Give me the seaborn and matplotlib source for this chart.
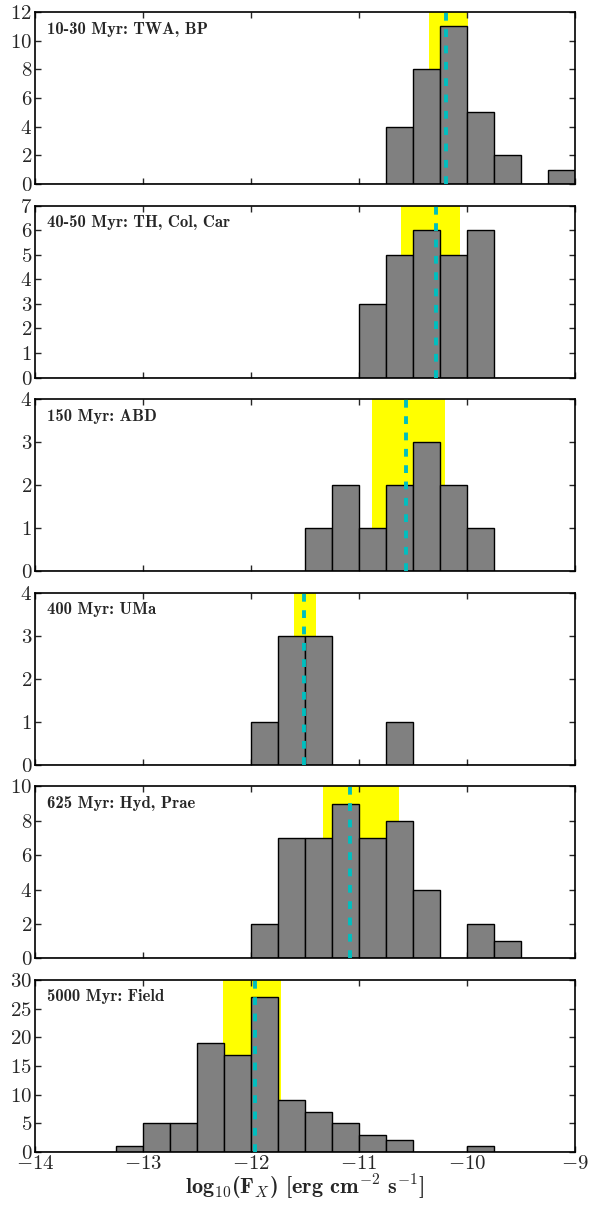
import matplotlib
matplotlib.use("Agg")
import matplotlib.pyplot as plt
import numpy as np
import pandas as pd
import seaborn as sns

# Histogram counts per age group, bins of 0.25 dex starting at first_edge
labels = [
    "10-30 Myr: TWA, BP",
    "40-50 Myr: TH, Col, Car",
    "150 Myr: ABD",
    "400 Myr: UMa",
    "625 Myr: Hyd, Prae",
    "5000 Myr: Field",
]
first_edge = [-10.75, -11.0, -11.5, -12.0, -12.0, -13.25]
counts = [
    [4, 8, 11, 5, 2, 0, 1],
    [3, 5, 6, 5, 6],
    [1, 2, 1, 2, 3, 2, 1],
    [1, 3, 3, 0, 0, 1],
    [2, 7, 7, 9, 7, 8, 4, 0, 2, 1],
    [1, 5, 5, 19, 17, 27, 9, 7, 5, 3, 2, 0, 0, 1],
]
# median flux and its uncertainty band
median_fx = [-10.19, -10.29, -10.56, -11.51, -11.08, -11.96]
band_lo = [-10.35, -10.61, -10.88, -11.60, -11.33, -12.26]
band_hi = [-9.99, -10.06, -10.20, -11.40, -10.63, -11.72]
ymax = [12, 7, 4, 4, 10, 30]
ystep = [2, 1, 1, 1, 2, 5]
bin_width = 0.25

sns.set_style("ticks")
plt.rcParams["font.family"] = "serif"
plt.rcParams["font.serif"] = ["cmr10", "DejaVu Serif"]
plt.rcParams["mathtext.fontset"] = "cm"
plt.rcParams["axes.formatter.use_mathtext"] = True
plt.rcParams["axes.unicode_minus"] = True

fig, axes = plt.subplots(6, 1, figsize=(5.92, 12.08), dpi=100, sharex=True)
fig.subplots_adjust(left=0.059, right=0.971, top=0.990, bottom=0.0464, hspace=0.126)

for i, ax in enumerate(axes):
    c = np.array(counts[i], dtype=float)
    df = pd.DataFrame({
        "fx": first_edge[i] + bin_width * (np.arange(len(c)) + 0.5),
        "n": c,
    })
    ax.axvspan(band_lo[i], band_hi[i], color="#ffff00", lw=0, zorder=0)
    sns.histplot(data=df, x="fx", weights="n", binwidth=bin_width,
                 binrange=(-14, -9), ax=ax, color="#808080",
                 edgecolor="black", linewidth=1.0, alpha=1, zorder=2)
    ax.axvline(median_fx[i], color="c", lw=2.8, ls=(0, (2.0, 2.2)), zorder=3)
    ax.set_xlim(-14, -9)
    ax.set_ylim(0, ymax[i])
    ax.set_yticks(np.arange(0, ymax[i] + 0.1, ystep[i]))
    ax.set_xticks(np.arange(-14, -8.9, 1))
    ax.set_ylabel("")
    ax.set_xlabel("")
    ax.tick_params(direction="in", top=True, right=True, length=4, width=1,
                   labelsize=15, pad=2)
    for sp in ax.spines.values():
        sp.set_linewidth(1.2)
        sp.set_color("black")
    ax.text(0.022, 0.945, labels[i], transform=ax.transAxes, va="top", ha="left",
            fontsize=12, family="cmb10")

axes[-1].set_xlabel(r"log$_{10}$(F$_X$) [erg cm$^{-2}$ s$^{-1}$]",
                    fontsize=16, family="cmb10", labelpad=0)

fig.savefig("out.png", dpi=100)
